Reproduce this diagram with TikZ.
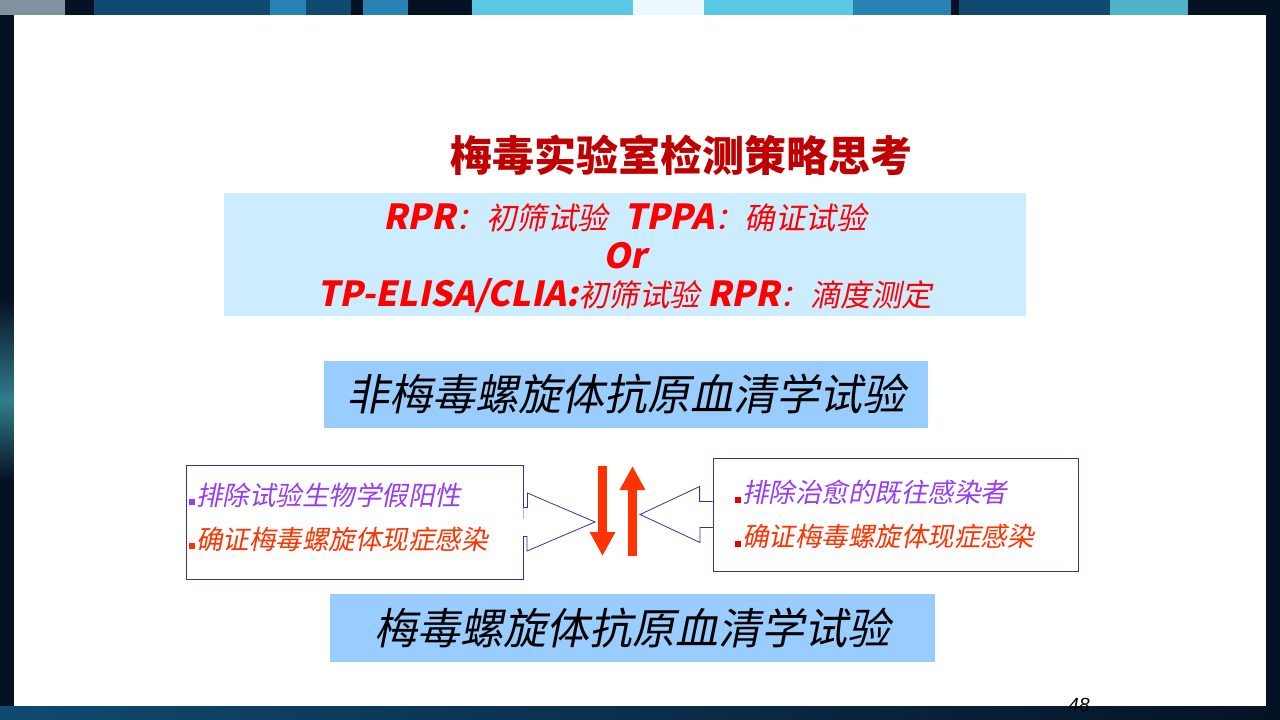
\documentclass[tikz,border=0pt]{standalone}
\usepackage{fontspec}
\setmainfont{DejaVu Sans}
\newfontfamily\zhfont{Noto Sans CJK SC}
\newfontfamily\zhit{Noto Sans CJK SC}[FakeSlant=0.2]
\newfontfamily\numfont{Liberation Sans}
\usetikzlibrary{positioning, calc, arrows.meta}
\definecolor{titlered}{RGB}{192,0,0}
\definecolor{textred}{RGB}{255,0,0}
\definecolor{paleblue}{RGB}{204,236,255}
\definecolor{bandblue}{RGB}{153,204,255}
\definecolor{violet}{RGB}{150,60,245}
\definecolor{hotred}{RGB}{255,51,0}
\definecolor{dotred}{RGB}{230,0,0}
\definecolor{framenavy}{RGB}{51,51,153}
\definecolor{edgedark}{RGB}{5,18,36}
\definecolor{edgeblue}{RGB}{16,74,112}
\definecolor{edgeteal}{RGB}{50,125,140}
\definecolor{stripgray}{RGB}{130,145,160}
\definecolor{stripmid}{RGB}{40,130,180}
\definecolor{stripcyan}{RGB}{90,200,228}
\definecolor{stripteal}{RGB}{80,180,200}

\newcommand{\lat}[1]{{\fontsize{34.5}{38.5}\selectfont\bfseries\itshape #1}}
\newcommand{\bul}[1]{{\color{#1}\rule{6pt}{6pt}}\hspace{1pt}}

\begin{document}
\begin{tikzpicture}[x=1pt, y=-1pt,
band/.style={rectangle, fill=bandblue, minimum width=604pt, minimum height=67pt,
inner sep=0pt, font=\zhit\fontsize{43}{43}\selectfont},
sidebox/.style={rectangle, draw=framenavy, fill=white, line width=0.8pt,
inner ysep=0pt, align=left, font=\zhit\fontsize{26.5}{44}\selectfont},
hollow/.style={draw=framenavy, fill=white, line width=0.8pt, line join=miter},
redarrow/.style={draw=hotred, line width=9pt, -{Triangle[length=24pt, width=24pt]}}
]
\useasboundingbox (0,0) rectangle (1280,720);

% Frame
\fill[edgedark] (0,0) rectangle (1280,720);
\shade[top color=edgedark, bottom color=edgeteal] (0,300) rectangle (14,400);
\shade[top color=edgeteal, bottom color=edgedark] (0,400) rectangle (14,480);
\shade[left color=edgeblue, right color=edgedark] (0,706) rectangle (1280,720);
\fill[stripgray] (0,0) rectangle (65,15);
\fill[edgeblue] (94,0) rectangle (351,15);
\fill[stripmid] (270,0) rectangle (306,15);
\fill[stripmid] (363,0) rectangle (408,15);
\fill[stripcyan] (472,0) rectangle (633,15);
\fill[white!92!cyan] (633,0) rectangle (704,15);
\fill[stripcyan] (704,0) rectangle (853,15);
\fill[stripmid] (853,0) rectangle (951,15);
\fill[edgeblue] (959,0) rectangle (1110,15);
\fill[stripteal] (1110,0) rectangle (1188,15);
\fill[white] (14,15) rectangle (1266,706);

% Title
\node[font=\zhfont\bfseries\fontsize{42}{42}\selectfont, text=titlered] (title)
at (681,155) {梅毒实验室检测策略思考};

% Strategy
\node[rectangle, fill=paleblue, minimum width=802pt, minimum height=121pt,
align=center, text=textred, font=\zhit\fontsize{30.5}{38.5}\selectfont] (strategy)
at (625,254.5)
{\rule{0pt}{34pt}\lat{RPR}：初筛试验\hspace{16pt}\lat{TPPA}：确证试验\\
\lat{Or}\\
\lat{TP-ELISA/CLIA:}初筛试验 \lat{RPR}：滴度测定};

% Non-treponemal
\node[band] (nontp) at (626,394.5) {非梅毒螺旋体抗原血清学试验};

% Treponemal
\node[band, minimum width=605pt, minimum height=68pt] (tp) at (632.5,628)
{梅毒螺旋体抗原血清学试验};

% Left notes
\node[sidebox, text width=331pt, inner xsep=3pt, minimum height=114pt] (lbox)
at (354.5,522)
{\bul{violet}\textcolor{violet}{排除试验生物学假阳性}\\
\bul{hotred}\textcolor{hotred}{确证梅毒螺旋体现症感染}\\[-32pt]\mbox{}};

% Right notes
\node[sidebox, text width=321pt, inner xsep=22pt, minimum height=113pt] (rbox)
at (895.5,514.5)
{\bul{dotred}\textcolor{violet}{排除治愈的既往感染者}\\
\bul{dotred}\textcolor{hotred}{确证梅毒螺旋体现症感染}};

% Up and down
\coordinate (dntop) at (602.5,466);
\coordinate (dntip) at (602.5,556);
\coordinate (upbot) at (632.5,556);
\coordinate (uptip) at (632.5,466);
\coordinate (ltip) at (595,522);
\coordinate (rtip) at (640,514.5);

% Arrows
\draw[hollow] ([yshift=14.5pt]lbox.east) -- ++(4,0) -- ++(0,-14.5) -- (ltip)
-- ++(-68,29) -- ++(0,-14.5) -- ++(-4,0);
\draw[hollow] ([yshift=13pt]rbox.west) -- ++(-13,0) -- ++(0,-15) -- (rtip)
-- ++(60,28) -- ++(0,-15) -- ++(13,0);
\draw[redarrow] (dntop) -- (dntip);
\draw[redarrow] (upbot) -- (uptip);

% Page number
\node[font=\numfont\itshape\fontsize{19}{19}\selectfont] (page) at (1079,705) {48};

\end{tikzpicture}
\end{document}
